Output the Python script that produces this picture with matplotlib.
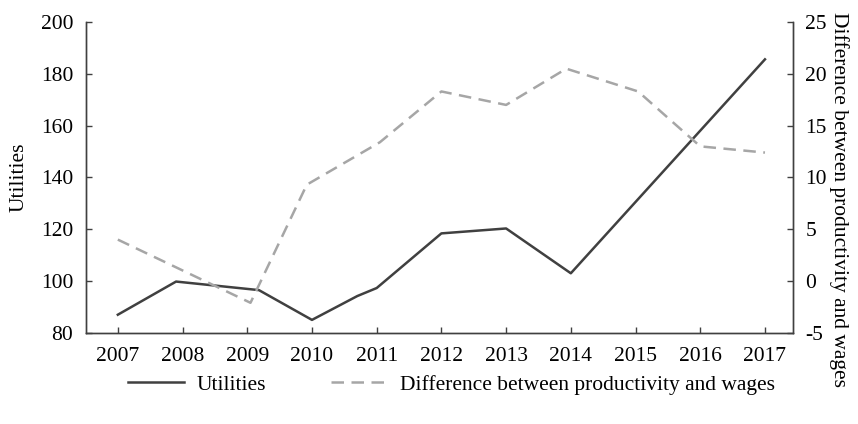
import matplotlib.pyplot as plt

plt.rcParams['font.family'] = ['Liberation Serif', 'DejaVu Serif']
plt.rcParams['font.size'] = 15.5
plt.rcParams['axes.unicode_minus'] = False

# Utilities (left axis)
util_x = [2007, 2007.9, 2009.18, 2010, 2010.7, 2011, 2012, 2013, 2014, 2017]
util_y = [87, 99.8, 96.5, 85, 94.2, 97.3, 118.4, 120.3, 103, 185.6]

# Difference between productivity and wages (right axis)
diff_x = [2007, 2009.05, 2009.92, 2011.05, 2012, 2013, 2013.93, 2015.04, 2015.6, 2016, 2017]
diff_y = [4.0, -2.1, 9.3, 13.4, 18.3, 17.0, 20.5, 18.3, 15.2, 13.0, 12.4]

years = list(range(2007, 2018))

fig = plt.figure(figsize=(8.58, 4.24), dpi=100)
ax = fig.add_axes([0.100, 0.215, 0.824, 0.733])
ax2 = ax.twinx()

l1, = ax.plot(util_x, util_y, color='#404040', lw=1.8, label='Utilities')
l2, = ax2.plot(diff_x, diff_y, color='#a6a6a6', lw=1.8, dashes=(5, 3),
               label='Difference between productivity and wages')

ax.set_xlim(2006.505, 2017.43)
ax.set_ylim(80, 200)
ax.set_yticks(range(80, 201, 20))
ax.set_xticks(years)
ax2.set_ylim(-5, 25)
ax2.set_yticks(range(-5, 26, 5))

for a in (ax, ax2):
    a.spines['top'].set_visible(False)
    for s in a.spines.values():
        s.set_color('#404040')
        s.set_linewidth(1.0)
    a.tick_params(direction='in', length=4, width=1.0, color='#404040', pad=9)
ax.tick_params(axis='x', pad=10)

ax.set_ylabel('Utilities')
ax.yaxis.set_label_coords(-0.081, 0.5)
ax2.set_ylabel('Difference between productivity and wages', rotation=270, va='center')
ax2.yaxis.set_label_coords(1.065, 0.428)

fig.legend(handles=[l1, l2], loc='center', bbox_to_anchor=(0.526, 0.092), ncol=2,
           frameon=False, handlelength=2.6, columnspacing=3.0, handletextpad=0.6)

fig.savefig('out.png', dpi=100)
